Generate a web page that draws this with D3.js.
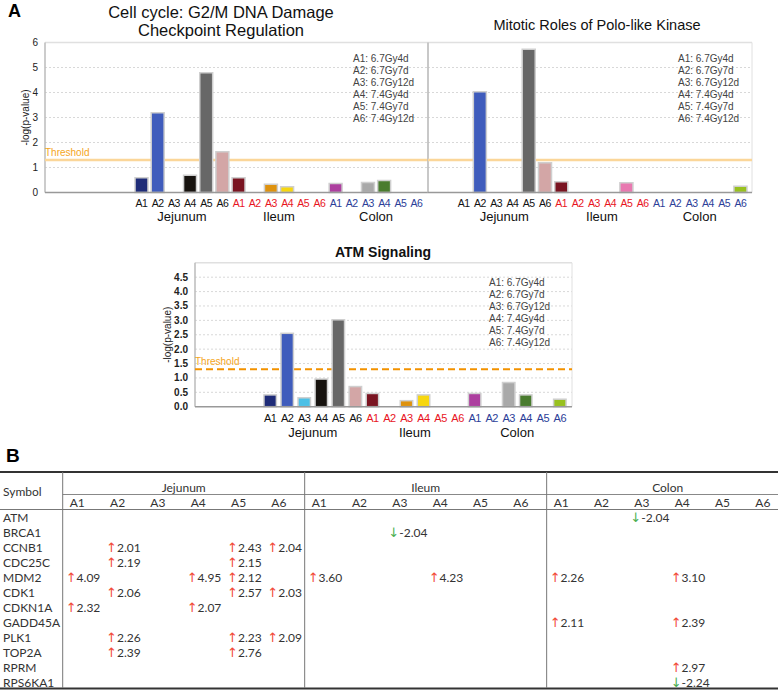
<!DOCTYPE html>
<html>
<head>
<meta charset="utf-8">
<script src="https://cdn.jsdelivr.net/npm/d3@7"></script>
<style>
  body { margin: 0; background: #fff; }
  svg { display: block; font-family: "Liberation Sans", Arial, sans-serif; }
</style>
</head>
<body>
<div id="chart"></div>
<script>
// ---- data ----
const tissues = ["Jejunum", "Ileum", "Colon"];
const arms = ["A1", "A2", "A3", "A4", "A5", "A6"];
const armLegend = ["6.7Gy4d", "6.7Gy7d", "6.7Gy12d", "7.4Gy4d", "7.4Gy7d", "7.4Gy12d"];
const tissueColors = ["#111111", "#e8141e", "#2c3e98"];
const barColors = [
  "#1f2c78", "#3f5cbc", "#4cc0e6", "#17130f", "#676767", "#d3a6a6",
  "#7a1421", "#b84848", "#de920e", "#f7d70f", "#e879b0", "#c86060",
  "#ad3f9f", "#7c86c4", "#a9a9a9", "#4a7c2f", "#5a9c9c", "#98c11f"
];
// -log(p-value), order: Jejunum A1..A6, Ileum A1..A6, Colon A1..A6
const g2mValues = [0.59, 3.19, 0, 0.69, 4.79, 1.63, 0.59, 0, 0.33, 0.23, 0, 0, 0.36, 0, 0.40, 0.48, 0, 0];
const ploValues = [0, 4.03, 0, 0, 5.73, 1.19, 0.43, 0, 0, 0, 0.39, 0, 0, 0, 0, 0, 0, 0.25];
const atmValues = [0.41, 2.55, 0.31, 0.96, 3.02, 0.70, 0.46, 0, 0.21, 0.41, 0, 0, 0.46, 0, 0.84, 0.41, 0, 0.26];
const threshold = 1.3;

// table B
const symbols = ["ATM", "BRCA1", "CCNB1", "CDC25C", "MDM2", "CDK1", "CDKN1A", "GADD45A", "PLK1", "TOP2A", "RPRM", "RPS6KA1"];
const foldChanges = [
  ["ATM", "Colon", "A3", -2.04],
  ["BRCA1", "Ileum", "A3", -2.04],
  ["CCNB1", "Jejunum", "A2", 2.01], ["CCNB1", "Jejunum", "A5", 2.43], ["CCNB1", "Jejunum", "A6", 2.04],
  ["CDC25C", "Jejunum", "A2", 2.19], ["CDC25C", "Jejunum", "A5", 2.15],
  ["MDM2", "Jejunum", "A1", 4.09], ["MDM2", "Jejunum", "A4", 4.95], ["MDM2", "Jejunum", "A5", 2.12],
  ["MDM2", "Ileum", "A1", 3.60], ["MDM2", "Ileum", "A4", 4.23],
  ["MDM2", "Colon", "A1", 2.26], ["MDM2", "Colon", "A4", 3.10],
  ["CDK1", "Jejunum", "A2", 2.06], ["CDK1", "Jejunum", "A5", 2.57], ["CDK1", "Jejunum", "A6", 2.03],
  ["CDKN1A", "Jejunum", "A1", 2.32], ["CDKN1A", "Jejunum", "A4", 2.07],
  ["GADD45A", "Colon", "A1", 2.11], ["GADD45A", "Colon", "A4", 2.39],
  ["PLK1", "Jejunum", "A2", 2.26], ["PLK1", "Jejunum", "A5", 2.23], ["PLK1", "Jejunum", "A6", 2.09],
  ["TOP2A", "Jejunum", "A2", 2.39], ["TOP2A", "Jejunum", "A5", 2.76],
  ["RPRM", "Colon", "A4", 2.97],
  ["RPS6KA1", "Colon", "A4", -2.24]
];

// ---- chart ----
const svg = d3.select("#chart").append("svg")
  .attr("width", 778).attr("height", 690);

const keys = tissues.flatMap(t => arms.map(a => t + "|" + a));

const drawPanel = (p) => {
  const g = svg.append("g");
  const x = d3.scaleBand().domain(keys).range(p.band).padding(p.pad);
  const y = d3.scaleLinear().domain([0, p.max]).range([p.bottom, p.top]);

  // grid
  g.selectAll(".grid").data(p.ticks.filter(t => t > 0 && t < p.max))
    .join("line")
    .attr("x1", p.left).attr("x2", p.right)
    .attr("y1", d => y(d)).attr("y2", d => y(d))
    .attr("stroke", "#d8d8d8").attr("stroke-dasharray", "2,2");
  // frame
  g.append("line").attr("x1", p.left).attr("x2", p.right).attr("y1", y(p.max)).attr("y2", y(p.max))
    .attr("stroke", "#e0e0e0").attr("stroke-width", 1.5);
  g.append("line").attr("x1", p.left).attr("x2", p.left).attr("y1", y(p.max)).attr("y2", y(0))
    .attr("stroke", "#bbb").attr("stroke-width", 1.5);
  g.append("line").attr("x1", p.right).attr("x2", p.right).attr("y1", y(p.max)).attr("y2", y(0))
    .attr("stroke", "#e0e0e0").attr("stroke-width", 1);

  // y labels
  if (p.yLabels) {
    g.selectAll(".ytick").data(p.ticks).join("text")
      .attr("x", p.left - 7).attr("y", d => y(d)).attr("dy", "0.35em")
      .attr("text-anchor", "end")
      .style("font-size", "10px").style("font-weight", p.tickWeight)
      .attr("fill", "#222")
      .text(d => d3.format(p.fmt)(d));
    g.append("text")
      .attr("transform", `translate(${p.yTitleX},${(y(0) + y(p.max)) / 2}) rotate(-90)`)
      .attr("text-anchor", "middle").attr("dy", "0.35em")
      .style("font-size", "10px").attr("fill", "#222")
      .text("-log(p-value)");
  }

  // threshold
  g.append("line")
    .attr("x1", p.left).attr("x2", p.right)
    .attr("y1", y(threshold)).attr("y2", y(threshold))
    .attr("stroke", p.dashed ? "#f39200" : "#fbd699")
    .attr("stroke-width", p.dashed ? 2 : 2.5)
    .attr("stroke-dasharray", p.dashed ? "7,4" : null);
  if (p.thresholdText) {
    g.append("text").attr("x", p.left).attr("y", y(threshold) - 4)
      .style("font-size", "10px").attr("fill", "#f5a623")
      .text("Threshold");
  }

  // bars
  g.selectAll(".bar").data(p.values).join("rect")
    .attr("x", (d, i) => x(keys[i]))
    .attr("y", d => y(d))
    .attr("width", x.bandwidth())
    .attr("height", d => y(0) - y(d))
    .attr("fill", (d, i) => barColors[i])
    .attr("stroke", "#cfcfcf").attr("stroke-width", 1.5)
    .style("display", d => d > 0 ? null : "none");

  // x baseline
  g.append("line").attr("x1", p.left).attr("x2", p.right).attr("y1", y(0)).attr("y2", y(0))
    .attr("stroke", "#999").attr("stroke-width", 1.5);

  // category labels
  g.selectAll(".xlab").data(keys).join("text")
    .attr("x", d => x(d) + x.bandwidth() / 2)
    .attr("y", p.catY)
    .attr("text-anchor", "middle")
    .style("font-size", p.catSize).style("letter-spacing", "-0.5px")
    .attr("fill", d => tissueColors[tissues.indexOf(d.split("|")[0])])
    .text(d => d.split("|")[1]);

  g.selectAll(".glab").data(tissues).join("text")
    .attr("x", t => (x(t + "|A1") + x(t + "|A6") + x.bandwidth()) / 2)
    .attr("y", p.groupY)
    .attr("text-anchor", "middle")
    .style("font-size", "13px").attr("fill", "#111")
    .text(t => t);

  // title
  g.selectAll(".title").data(p.title).join("text")
    .attr("x", p.titleX).attr("y", (d, i) => p.titleY + i * 18)
    .attr("text-anchor", "middle")
    .style("font-size", p.titleSize).style("font-weight", p.titleWeight)
    .attr("fill", "#111")
    .text(d => d);

  // legend
  g.selectAll(".leg").data(arms).join("text")
    .attr("x", p.legX).attr("y", (d, i) => p.legY + i * 12)
    .style("font-size", "10px").attr("fill", "#444")
    .text((d, i) => `${d}:  ${armLegend[i]}`);
};

drawPanel({
  values: g2mValues, left: 45, right: 428, top: 42.5, bottom: 192.5, max: 6,
  ticks: d3.range(0, 7, 1), fmt: "d", tickWeight: "normal", yLabels: true, yTitleX: 25,
  band: [131.8, 426.2], pad: 0.2, dashed: false, thresholdText: true,
  catY: 207, catSize: "10.5px", groupY: 221,
  title: ["Cell cycle: G2/M DNA Damage", "Checkpoint Regulation"], titleX: 221, titleY: 18,
  titleSize: "16.5px", titleWeight: "normal", legX: 353, legY: 62
});

drawPanel({
  values: ploValues, left: 428, right: 752, top: 42.5, bottom: 192.5, max: 6,
  ticks: d3.range(0, 7, 1), fmt: "d", yLabels: false,
  band: [453.8, 750.2], pad: 0.2, dashed: false, thresholdText: false,
  catY: 207, catSize: "10.5px", groupY: 221,
  title: ["Mitotic Roles of Polo-like Kinase"], titleX: 597, titleY: 30,
  titleSize: "14.5px", titleWeight: "normal", legX: 678, legY: 62
});

drawPanel({
  values: atmValues, left: 195, right: 572, top: 262.8, bottom: 406.7, max: 5,
  ticks: d3.range(0, 5, 0.5), fmt: ".1f", tickWeight: "bold", yLabels: true, yTitleX: 167,
  band: [259.35, 570.65], pad: 0.27, dashed: true, thresholdText: true,
  catY: 421.5, catSize: "11px", groupY: 436.5,
  title: ["ATM Signaling"], titleX: 383, titleY: 257,
  titleSize: "14px", titleWeight: "bold", legX: 489, legY: 285.5
});

// panel letters
svg.append("text").attr("x", 8).attr("y", 17).style("font-size", "18px").style("font-weight", "bold").text("A");
svg.append("text").attr("x", 6).attr("y", 462).style("font-size", "19px").style("font-weight", "bold").text("B");

// ---- table ----
const tb = svg.append("g").style("font-family", "Lato, 'Open Sans', sans-serif");
const col = d3.scaleBand().domain(keys).range([62.7, 62.7 + 18 * 40.33]);
const row = d3.scalePoint().domain(symbols).range([518, 683]);

tb.append("line").attr("x1", 0).attr("x2", 778).attr("y1", 472).attr("y2", 472).attr("stroke", "#333").attr("stroke-width", 2);
tb.append("line").attr("x1", 62.7).attr("x2", 778).attr("y1", 494.5).attr("y2", 494.5).attr("stroke", "#888");
tb.append("line").attr("x1", 0).attr("x2", 778).attr("y1", 509.5).attr("y2", 509.5).attr("stroke", "#777");
tb.append("line").attr("x1", 0).attr("x2", 778).attr("y1", 688.5).attr("y2", 688.5).attr("stroke", "#333").attr("stroke-width", 2);
tb.selectAll(".vline").data(tissues).join("line")
  .attr("x1", t => col(t + "|A1")).attr("x2", t => col(t + "|A1"))
  .attr("y1", 472).attr("y2", 688)
  .attr("stroke", "#777");

tb.append("text").attr("x", 3).attr("y", 492).attr("dy", "0.35em")
  .style("font-size", "12px").attr("fill", "#333").text("Symbol");
tb.selectAll(".th").data(tissues).join("text")
  .attr("x", t => col(t + "|A1") + 3 * col.bandwidth())
  .attr("y", 488).attr("dy", "0.35em").attr("text-anchor", "middle")
  .style("font-size", "12px").attr("fill", "#333").text(t => t);
tb.selectAll(".sh").data(keys).join("text")
  .attr("x", d => col(d) + 7).attr("y", 503).attr("dy", "0.35em")
  .style("font-size", "12px").attr("fill", "#333").text(d => d.split("|")[1]);
tb.selectAll(".sym").data(symbols).join("text")
  .attr("x", 3).attr("y", d => row(d)).attr("dy", "0.35em")
  .style("font-size", "12px").attr("fill", "#333").text(d => d);

const cell = tb.selectAll(".cell").data(foldChanges).join("text")
  .attr("x", d => col(d[1] + "|" + d[2]) + 3)
  .attr("y", d => row(d[0])).attr("dy", "0.35em")
  .style("font-size", "12px");
cell.append("tspan")
  .style("font-family", "'DejaVu Sans', sans-serif").style("font-size", "13px")
  .attr("fill", d => d[3] > 0 ? "#f24a38" : "#4caf50")
  .text(d => d[3] > 0 ? "\u2191" : "\u2193");
cell.append("tspan").attr("fill", "#333")
  .text(d => d[3].toFixed(2));
</script>
</body>
</html>
